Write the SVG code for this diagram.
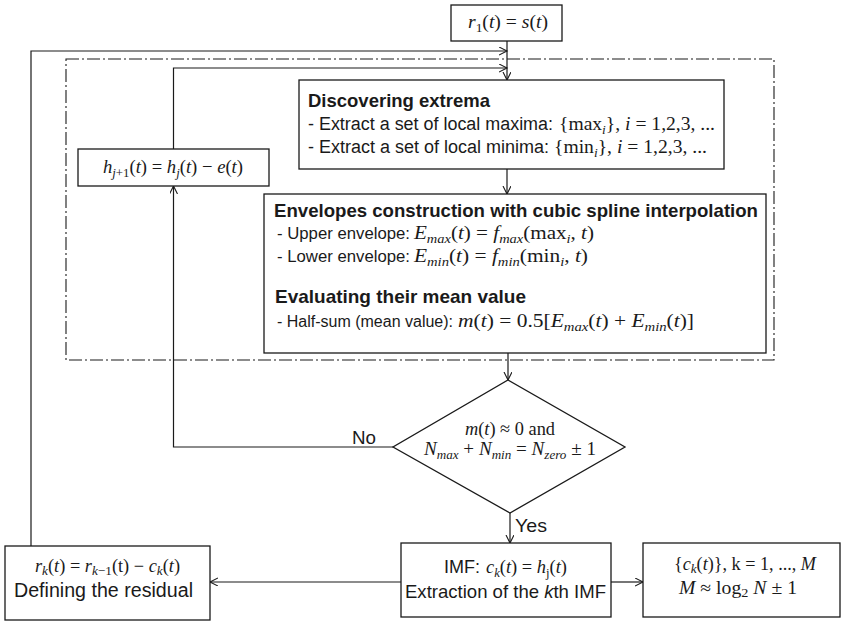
<svg xmlns="http://www.w3.org/2000/svg" width="842" height="621" viewBox="0 0 842 621">
  <style>
    .box { fill: #ffffff; stroke: #1a1a1a; stroke-width: 1.3; }
    .frame { fill: none; stroke: #1a1a1a; stroke-width: 1.1; stroke-dasharray: 13 3 2 3; }
    .line { fill: none; stroke: #1a1a1a; stroke-width: 1.2; marker-end: url(#arr); }
    .s { font-family: "Liberation Sans", Arial, sans-serif; font-size: 18px; fill: #1a1a1a; }
    .b { font-family: "Liberation Sans", Arial, sans-serif; font-size: 18.5px; font-weight: bold; fill: #1a1a1a; }
    .m { font-family: "Liberation Serif", "Times New Roman", serif; font-size: 19px; fill: #1a1a1a; }
    .i { font-style: italic; }
    .sb { font-size: 13px; }
  </style>
  <defs>
    <marker id="arr" markerWidth="10" markerHeight="10" refX="8" refY="4" orient="auto" markerUnits="userSpaceOnUse">
      <path d="M0,0 L8,4 L0,8" fill="none" stroke="#1a1a1a" stroke-width="1.1"/>
    </marker>
  </defs>
  <rect width="842" height="621" fill="#ffffff"/>

  <!-- dash-dot frame around the sifting steps -->
  <rect class="frame" x="66" y="59" width="708" height="301"/>

  <g id="connectors">
    <path class="line" d="M507,41 V80"/>
    <path class="line" d="M31,546 V51 H507"/>
    <path class="line" d="M173.5,149 V68 H507"/>
    <path class="line" d="M507,169 V194"/>
    <path class="line" d="M508,353 V380"/>
    <path class="line" d="M393,447 H173.5 V186"/>
    <path class="line" d="M510,513 V543"/>
    <path class="line" d="M401,582 H210"/>
    <path class="line" d="M611,582 H643"/>
    <text class="s" x="352" y="444" style="font-size:18.8px" textLength="24" lengthAdjust="spacingAndGlyphs">No</text>
    <text class="s" x="515" y="532" style="font-size:18.6px" textLength="32" lengthAdjust="spacingAndGlyphs">Yes</text>
  </g>

  <g id="start">
    <rect class="box" x="451" y="5" width="111" height="36"/>
    <text class="m" x="468" y="28" textLength="80" lengthAdjust="spacingAndGlyphs"><tspan class="i">r</tspan><tspan class="sb" dy="4">1</tspan><tspan dy="-4">(</tspan><tspan class="i">t</tspan>) = <tspan class="i">s</tspan>(<tspan class="i">t</tspan>)</text>
  </g>

  <g id="extrema">
    <rect class="box" x="299" y="80" width="425" height="89"/>
    <text class="b" x="308" y="107" textLength="182" lengthAdjust="spacingAndGlyphs">Discovering extrema</text>
    <text class="s" x="308" y="130" textLength="245" lengthAdjust="spacingAndGlyphs">- Extract a set of local maxima:</text>
    <text class="m" x="559" y="130" textLength="156" lengthAdjust="spacingAndGlyphs">{max<tspan class="sb i" dy="4">i</tspan><tspan dy="-4">}, </tspan><tspan class="i">i</tspan> = 1,2,3, ...</text>
    <text class="s" x="308" y="153" textLength="241" lengthAdjust="spacingAndGlyphs">- Extract a set of local minima:</text>
    <text class="m" x="554" y="153" textLength="153" lengthAdjust="spacingAndGlyphs">{min<tspan class="sb i" dy="4">i</tspan><tspan dy="-4">}, </tspan><tspan class="i">i</tspan> = 1,2,3, ...</text>
  </g>

  <g id="update">
    <rect class="box" x="78" y="149" width="191" height="37"/>
    <text class="m" x="103" y="173" textLength="140" lengthAdjust="spacingAndGlyphs"><tspan class="i">h</tspan><tspan class="sb i" dy="4">j</tspan><tspan class="sb">+1</tspan><tspan dy="-4">(</tspan><tspan class="i">t</tspan>) = <tspan class="i">h</tspan><tspan class="sb i" dy="4">j</tspan><tspan dy="-4">(</tspan><tspan class="i">t</tspan>) − <tspan class="i">e</tspan>(<tspan class="i">t</tspan>)</text>
  </g>

  <g id="envelopes">
    <rect class="box" x="264" y="194" width="502" height="159"/>
    <text class="b" x="274" y="217" textLength="484" lengthAdjust="spacingAndGlyphs">Envelopes construction with cubic spline interpolation</text>
    <text class="s" x="277" y="239" style="font-size:16.6px" textLength="133" lengthAdjust="spacingAndGlyphs">- Upper envelope:</text>
    <text class="m" x="414" y="239" textLength="180" lengthAdjust="spacingAndGlyphs"><tspan class="i">E</tspan><tspan class="sb i" dy="4">max</tspan><tspan dy="-4">(</tspan><tspan class="i">t</tspan>) = <tspan class="i">f</tspan><tspan class="sb i" dy="4">max</tspan><tspan dy="-4">(max</tspan><tspan class="sb i" dy="4">i</tspan><tspan dy="-4">, </tspan><tspan class="i">t</tspan>)</text>
    <text class="s" x="277" y="262" style="font-size:16.6px" textLength="133" lengthAdjust="spacingAndGlyphs">- Lower envelope:</text>
    <text class="m" x="414" y="262" textLength="174" lengthAdjust="spacingAndGlyphs"><tspan class="i">E</tspan><tspan class="sb i" dy="4">min</tspan><tspan dy="-4">(</tspan><tspan class="i">t</tspan>) = <tspan class="i">f</tspan><tspan class="sb i" dy="4">min</tspan><tspan dy="-4">(min</tspan><tspan class="sb i" dy="4">i</tspan><tspan dy="-4">, </tspan><tspan class="i">t</tspan>)</text>
    <text class="b" x="275" y="303" textLength="251" lengthAdjust="spacingAndGlyphs">Evaluating their mean value</text>
    <text class="s" x="277" y="327" style="font-size:16px" textLength="176" lengthAdjust="spacingAndGlyphs">- Half-sum (mean value):</text>
    <text class="m" x="458" y="327" textLength="236" lengthAdjust="spacingAndGlyphs"><tspan class="i">m</tspan>(<tspan class="i">t</tspan>) = 0.5[<tspan class="i">E</tspan><tspan class="sb i" dy="4">max</tspan><tspan dy="-4">(</tspan><tspan class="i">t</tspan>) + <tspan class="i">E</tspan><tspan class="sb i" dy="4">min</tspan><tspan dy="-4">(</tspan><tspan class="i">t</tspan>)]</text>
  </g>

  <g id="decision">
    <polygon class="box" points="508,380 625,447 510,513 393,447"/>
    <text class="m" x="465" y="435" textLength="90" lengthAdjust="spacingAndGlyphs"><tspan class="i">m</tspan>(<tspan class="i">t</tspan>) ≈ 0 and</text>
    <text class="m" x="424" y="455" textLength="172" lengthAdjust="spacingAndGlyphs"><tspan class="i">N</tspan><tspan class="sb i" dy="4">max</tspan><tspan dy="-4"> + </tspan><tspan class="i">N</tspan><tspan class="sb i" dy="4">min</tspan><tspan dy="-4"> = </tspan><tspan class="i">N</tspan><tspan class="sb i" dy="4">zero</tspan><tspan dy="-4"> ± 1</tspan></text>
  </g>

  <g id="residual">
    <rect class="box" x="5" y="546" width="205" height="74"/>
    <text class="m" x="35" y="572" style="font-size:18px" textLength="145" lengthAdjust="spacingAndGlyphs"><tspan class="i">r</tspan><tspan class="sb i" dy="3">k</tspan><tspan dy="-3">(</tspan><tspan class="i">t</tspan>) = <tspan class="i">r</tspan><tspan class="sb i" dy="3">k</tspan><tspan class="sb">−1</tspan><tspan dy="-3">(t) − </tspan><tspan class="i">c</tspan><tspan class="sb i" dy="3">k</tspan><tspan dy="-3">(</tspan><tspan class="i">t</tspan>)</text>
    <text class="s" x="14" y="597" style="font-size:19.5px" textLength="179" lengthAdjust="spacingAndGlyphs">Defining the residual</text>
  </g>

  <g id="imf">
    <rect class="box" x="401" y="543" width="210" height="74"/>
    <text class="s" x="444" y="573" textLength="36" lengthAdjust="spacingAndGlyphs">IMF:</text>
    <text class="m" x="486" y="573" textLength="81" lengthAdjust="spacingAndGlyphs"><tspan class="i">c</tspan><tspan class="sb i" dy="4">k</tspan><tspan dy="-4">(</tspan><tspan class="i">t</tspan>) = <tspan class="i">h</tspan><tspan class="sb" dy="4">j</tspan><tspan dy="-4">(</tspan><tspan class="i">t</tspan>)</text>
    <text class="s" x="405" y="598" style="font-size:18.5px" textLength="201" lengthAdjust="spacingAndGlyphs">Extraction of the <tspan class="i">k</tspan>th IMF</text>
  </g>

  <g id="result">
    <rect class="box" x="643" y="543" width="197" height="74"/>
    <text class="m" x="674" y="570" style="font-size:18px" textLength="142" lengthAdjust="spacingAndGlyphs">{<tspan class="i">c</tspan><tspan class="sb i" dy="3">k</tspan><tspan dy="-3">(</tspan><tspan class="i">t</tspan>)}, k = 1, ..., <tspan class="i">M</tspan></text>
    <text class="m" x="679" y="594" style="font-size:18px" textLength="118" lengthAdjust="spacingAndGlyphs"><tspan class="i">M</tspan> ≈ log<tspan class="sb" dy="3">2</tspan><tspan dy="-3"> </tspan><tspan class="i">N</tspan> ± 1</text>
  </g>
</svg>
